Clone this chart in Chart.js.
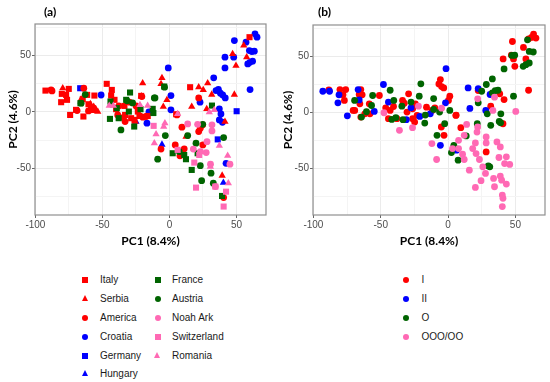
<!DOCTYPE html>
<html>
<head>
<meta charset="utf-8">
<script src="https://cdn.jsdelivr.net/npm/chart.js@4"></script>
<style>
  body { margin: 0; background: #fff; width: 550px; height: 382px; position: relative; overflow: hidden; }
  canvas { position: absolute; top: 0; }
  .tag { position: absolute; top: 4px; font: bold 12px Lato, sans-serif; color: #000; }
  .leg { position: absolute; font: 10px "Liberation Sans", Arial, sans-serif; color: #1a1a1a; }
  .row { position: absolute; white-space: nowrap; height: 12px; line-height: 12px; }
  .mk { position: absolute; top: 3px; }
  .sq { width: 6px; height: 6px; }
  .ci { width: 6px; height: 6px; border-radius: 50%; }
  .tr { width: 0; height: 0; top: 2px; border-left: 3.5px solid transparent; border-right: 3.5px solid transparent; border-bottom: 6px solid; }
</style>
</head>
<body>
<canvas id="chartA" width="275" height="255" style="left:0"></canvas>
<canvas id="chartB" width="275" height="255" style="left:275px"></canvas>
<div class="tag" style="left:44px">(a)</div>
<div class="tag" style="left:318px">(b)</div>
<div id="legendA"></div>
<div id="legendB"></div>
<script>
// panel (a): points per origin, [PC1, PC2]
const italy = [[-92.5,18.9],[-75.1,20.4],[-80.3,16],[-77.1,15.1],[-80.8,8.6],[-76.4,10.7],[-74.1,-2.7],[-69.7,1.8],
  [-64.7,11.2],[-61.4,15.1],[-60.4,6.8],[-56,14.5],[-58.5,1.8],[-64.2,-4.1],[-46.8,24.9],[-43,19.5],[-43.5,14.5],
  [-41,10.7],[-39.8,2.4],[-33.6,5.3],[-34.1,-5],[-28.6,-5.6],[-23.6,0.3],[-22.4,-3.6],[-16.2,-3.6],[-21.1,14.2],
  [-26.1,-7.1],[-33.1,-2.7],[5,-2.1],[15.4,21.9],[59.7,66.3]];
const serbia = [[-79.6,21],[-65.9,11.2],[-56.5,4.7],[-57.2,0.9],[-55.2,1.8],[-53.5,0.3],[-59,7.1],[-25.6,-8.6],
  [-20,25.5],[-21,14],[-5.6,30.2],[-6.3,24.9],[-1.9,10.7],[-4.6,4.7],[21.8,21.9],[25.2,19.5],[28.5,25.5],[16.6,4.7],
  [27.8,2.7],[31.5,15.4],[48.4,15.4],[12.4,-21.9],[39.3,-56.5],[41.4,-8.6],[55.4,58.9],[47.1,51.5],[57.6,48.6],[49.6,41.1]];
const america = [[-88.3,19.5],[-87.6,18.6],[-63.9,21],[-68.9,1.2],[-60.4,0.9],[-56.5,3.3],[-37.8,5.3],[-29.9,8.6],
  [-20.6,13.6],[-38.6,-2.7],[-33.1,-8.6],[-19.9,-4.7],[-17.4,-4.1],[-24.9,5.3],[21.8,12.4],[9.3,-13.6],[21.8,-17.5],
  [23,-14.5],[24.8,-11.5],[4.3,-29.3],[11,-32.8],[-6.3,-33],[7.8,-39],[40.4,-76],[5.6,-2.7],[24.9,-29.3]];
const croatia = [[63.8,69.3],[65.3,66.3],[57.1,61.9],[48.4,63.3],[59.6,54.4],[63.3,53.9],[61.4,53.6],[47.9,48.6],
  [41.4,48.6],[41.4,39],[58.4,42.6],[60,44],[62,45],[60.1,19.8],[-0.9,39],[33,30.2],[34.7,18.9],[36.5,20],[38,16.6],
  [39.7,15],[41.6,12.4],[22.8,8.6],[1.1,14.5],[1.1,1.8],[37.2,2.7],[38.4,-1.8],[37.2,-7.1],[39.5,-9.2],[-16.8,-10],
  [-51,15],[-15.3,0],[42.2,-45.6]];
const germany = [[-66.6,21],[50.1,0.6],[36,-24.4],[-13.8,-0.3]];
const hungary = [[-5.6,-29],[40.2,-62.8],[-25,-8.6]];
const france = [[-29.4,17.2],[-32.3,10.7],[-39.3,3.3],[-44.4,-6.2],[-37.9,-5.6],[-30.3,0.3],[-26.3,-13],[-21.6,2.4],
  [-12.5,2.7],[-12,-1],[-44,9.2],[-66.4,7.7],[-3.9,22.5],[2.4,-36.7],[11,-38.2],[12.3,-42],[16.6,-51.5],[21,-36.7],
  [31.7,5.6],[39.2,-74.6]];
const austria = [[-3.7,21.9],[-10.8,12.4],[-11.3,12.4],[-31.6,9.8],[-27.5,8],[-62.8,15.4],[-65.9,7.7],[-36.2,-16],
  [-3.1,-21],[-8.8,-42],[13.6,-21],[19.8,-27.8],[7.3,-35.2],[23,-47.7],[24,-61],[31,-54.4],[32.7,-63.3],[40.4,-22.8],
  [24.8,-11]];
const noahArk = [[13.6,-10.7],[21,-11],[31.7,-11.5],[31.7,-16.9],[28,-26.4],[17.8,-33],[23.1,-35.2],[27.4,-36.1],
  [30.6,-46.4],[45.1,-46.4],[34.3,-66.3]];
const switzerland = [[-11.8,-12.4],[6.1,-33.7],[18.5,-45],[19.8,-67.2],[34.2,-66.3],[42.2,-70.8],[40.4,-84],[22.2,-38.2]];
const romania = [[-3.4,-10],[-4.3,-13],[-11.3,-27.8],[-10,-19.8],[37.2,-30],[30.5,-48.5],[43.4,-38.8],[43.9,-63.3],
  [6.1,-1.8],[29.7,-0.3],[33.4,1.8],[-44.9,5.6],[-41.9,5.6],[-22,6.2],[-16.3,5.6]];

// panel (b): same samples grouped by class
const groupI = [[63.5,69.9],[65.3,66.3],[59.8,65.7],[62,66.9],[47.8,63.3],[56,58],[57.8,47.7],[48.6,47.7],[40.9,47.7],
  [49.6,41.1],[59.8,19.8],[47,51.2],[-5.7,29.3],[-6.8,25.4],[-4.8,23.1],[-3.2,21.9],[1.3,14.5],[0.3,10.7],[6,-2.4],
  [5.8,-2.7],[9.5,-13.6],[-5,-13],[-3,-20.4],[22.4,19.5],[31.7,5.6],[38.4,16.6],[41.6,11.5],[40.8,-10.1],[28.3,-35.2],
  [-9.8,4.1],[-11.8,1.8],[-88.5,20.1],[-80.3,20.4],[-76,20.4],[-78,15.7],[-77,10.7],[-70.5,1.8],[-69.3,1.8],[-66,16],
  [-63.8,15.7],[-64.8,20.4],[-65.5,7.7],[-61.8,-1.2],[-64.8,-4.1],[-58,-1.2],[-58.5,7.7],[-51,15.1],[-46.3,4.1],
  [-43,1.8],[-40.5,5.3],[-44.3,-5.6],[-33.8,10.7],[-32.5,8.3],[-29.3,16.6],[-30.5,0.3],[-26.3,-5.6],[-24.8,-8.6],
  [-23,-2.7],[-24.3,7.7],[-16,4.7],[-38,-5.6],[-26.3,3.3]];
const groupII = [[-93,18.9],[-88,18.9],[-81,15.7],[-81.8,8.6],[-74.8,-3],[-66.8,20.4],[-66,11.2],[-54.8,0.9],
  [-48,24.9],[-44.3,9.2],[-27.5,4.1],[-31,-6.5],[-21,-3.6],[-13.2,-1.2],[-1.5,39],[-1.9,8.6],[14.9,21.9],[16.2,3.6],
  [22.4,21.3],[31.2,16],[28,1.8],[-5.7,-29.3],[6.3,-33.7]];
const groupO = [[59,64.8],[60.3,54.4],[63.3,53.9],[47.4,50.9],[49.5,51],[41.6,38.8],[57.8,42.6],[60.3,44.1],
  [55.8,41.1],[48.6,14.5],[32.9,29.9],[28.4,24.9],[37.1,19.8],[35,19.5],[32.9,17.5],[25,18.9],[22.4,8.6],[-10.7,12.4],
  [1.3,1.8],[29.1,-1.2],[39.2,-1.2],[-10.7,2.7],[-2.5,-10],[-8.2,-20.4],[21.7,-10],[31.7,-11.5],[38,-8],[39,-9.2],
  [13.5,-21],[4.3,-29.3],[2.5,-35.8],[7.5,-42.6],[29.9,-47.7],[31,-48.5],[-56,15.1],[-43,19.8],[-69.4,10.7],
  [-20.2,25.5],[-40.3,10.7],[-21.4,14.5],[-34.3,5.6],[-60.6,0.6],[-16.9,-2.4],[-56.8,6.2],[-64.3,-4.1],[-41.8,-6.2],
  [-38.8,-4.7],[-17.3,-9.5],[-6.3,0.3],[-27.5,9.2],[-33.5,-6.5]];
const groupOOO = [[-47.6,-0.3],[-36.1,-16],[-26.4,-13.6],[-22,5.6],[-12,-27.8],[-8.5,-42],[-4.8,3.8],[13.8,-10.7],
  [7.8,-32.2],[10.8,-37.3],[12,-42],[15.8,-51.5],[20.3,-66.9],[24.5,-60.9],[18.3,-32.2],[22,-13],[21.5,-17.5],
  [20.3,-27.2],[20.8,-36.7],[23.3,-42],[25.8,-48.5],[28.3,-27.2],[27.8,-54.4],[33.8,-58.9],[34.5,-66.3],[36.3,-26.3],
  [38.8,-30.8],[37.8,-40.2],[42,-45.6],[45.8,-46.4],[43.3,-63.9],[38.8,-56.8],[39.8,-60.4],[40.3,-73.7],[40.8,-76.6],
  [40.3,-84],[50.3,0.9],[22,12.1],[33.3,1.8],[34.5,13.6],[28.3,-21.9],[7.8,-24.9],[12,-20.4],[3.3,-32.2],[43.3,-39.6]];

const xTicks = [-100, -75, -50, -25, 0, 25, 50];
const yTicks = [-75, -50, -25, 0, 25, 50, 75];
const xLabelled = [-100, -50, 0, 50];
const yLabelled = [-50, 0, 50];

const RED = '#ff0000', BLUE = '#0000ff', GREEN = '#006400', PINK = '#ff69b4';

// grey frame round the plotting area, like ggplot's theme_bw
const panelBorder = {
  id: 'panelBorder',
  afterDraw(chart) {
    const a = chart.chartArea, ctx = chart.ctx;
    ctx.save();
    ctx.strokeStyle = '#8f8f8f';
    ctx.lineWidth = 1.2;
    ctx.strokeRect(a.left, a.top, a.right - a.left, a.bottom - a.top);
    ctx.restore();
  }
};

function series(pts, color, style) {
  const r = style === 'circle' ? 3.4 : (style === 'rect' ? 4.3 : 4.2);
  return {
    data: pts.map(p => ({ x: p[0], y: p[1] })),
    pointStyle: style,
    pointRadius: r,
    backgroundColor: color,
    borderWidth: 0
  };
}

function isMajor(list, c) {
  return list.includes(c.tick && c.tick.value);
}

function makeChart(id, datasets, leftW, padTop, padRight) {
  return new Chart(document.getElementById(id), {
    type: 'scatter',
    data: { datasets: datasets },
    plugins: [panelBorder],
    options: {
      responsive: false,
      animation: false,
      layout: { padding: { top: padTop, right: padRight, left: 0, bottom: 0 } },
      plugins: { legend: { display: false }, tooltip: { enabled: false } },
      scales: {
        x: {
          min: -100.3, max: 72,
          afterBuildTicks: s => { s.ticks = xTicks.map(v => ({ value: v })); },
          afterFit: s => { s.height = 40; },
          ticks: {
            autoSkip: false, maxRotation: 0, padding: 1,
            color: '#4d4d4d', font: { family: 'Liberation Sans', size: 10 },
            callback: v => xLabelled.includes(v) ? String(v) : ''
          },
          grid: {
            color: c => isMajor(xLabelled, c) ? '#ebebeb' : '#f4f4f4',
            tickColor: c => isMajor(xLabelled, c) ? '#666' : 'rgba(0,0,0,0)',
            tickLength: 3
          },
          border: { display: false },
          title: {
            display: true, text: 'PC1 (8.4%)', color: '#000',
            font: { family: 'Lato', size: 12, weight: 'bold' },
            padding: { top: 0, bottom: 7 }
          }
        },
        y: {
          min: -91.5, max: 78,
          afterBuildTicks: s => { s.ticks = yTicks.map(v => ({ value: v })); },
          afterFit: s => { s.width = leftW; },
          ticks: {
            autoSkip: false, padding: 1,
            color: '#4d4d4d', font: { family: 'Liberation Sans', size: 10 },
            callback: v => yLabelled.includes(v) ? String(v) : ''
          },
          grid: {
            color: c => isMajor(yLabelled, c) ? '#ebebeb' : '#f4f4f4',
            tickColor: c => isMajor(yLabelled, c) ? '#666' : 'rgba(0,0,0,0)',
            tickLength: 3
          },
          border: { display: false },
          title: {
            display: true, text: 'PC2 (4.6%)', color: '#000',
            font: { family: 'Lato', size: 12, weight: 'bold' },
            padding: { top: 6, bottom: 0 }
          }
        }
      }
    }
  });
}

makeChart('chartA', [
  series(romania, PINK, 'triangle'),
  series(switzerland, PINK, 'rect'),
  series(noahArk, PINK, 'circle'),
  series(austria, GREEN, 'circle'),
  series(france, GREEN, 'rect'),
  series(italy, RED, 'rect'),
  series(america, RED, 'circle'),
  series(serbia, RED, 'triangle'),
  series(hungary, BLUE, 'triangle'),
  series(germany, BLUE, 'rect'),
  series(croatia, BLUE, 'circle')
], 35, 24, 9);

makeChart('chartB', [
  series(groupOOO, PINK, 'circle'),
  series(groupO, GREEN, 'circle'),
  series(groupII, BLUE, 'circle'),
  series(groupI, RED, 'circle')
], 38, 25, 5);

// legends below each panel (html, one row per key)
function legend(el, entries) {
  let html = '';
  entries.forEach(e => {
    const cls = e.shape === 'square' ? 'sq' : (e.shape === 'circle' ? 'ci' : 'tr');
    const colorCss = cls === 'tr' ? 'border-bottom-color:' + e.color : 'background:' + e.color;
    const mkLeft = e.mx - e.tx - (cls === 'tr' ? 3.5 : 3);
    html += '<div class="row leg" style="left:' + e.tx + 'px;top:' + (e.y - 6) + 'px">' +
      '<span class="mk ' + cls + '" style="left:' + mkLeft + 'px;' + colorCss + '"></span>' + e.label + '</div>';
  });
  document.getElementById(el).innerHTML = html;
}

const legendALabels = ['Italy', 'Serbia', 'America', 'Croatia', 'Germany', 'Hungary', 'France', 'Austria', 'Noah Ark', 'Switzerland', 'Romania'];
const legendAShapes = ['square', 'triangle', 'circle', 'circle', 'square', 'triangle', 'square', 'circle', 'circle', 'square', 'triangle'];
const legendAColors = [RED, RED, RED, BLUE, BLUE, BLUE, GREEN, GREEN, PINK, PINK, PINK];
const rowsY = [280, 299, 318, 337, 355.5, 373.5];
legend('legendA', legendALabels.map((l, i) => {
  const col = i < 6 ? 0 : 1, row = i < 6 ? i : i - 6;
  return { label: l, shape: legendAShapes[i], color: legendAColors[i],
    mx: col ? 157.5 : 85, tx: col ? 172 : 100, y: rowsY[row] };
}));

const legendBLabels = ['I', 'II', 'O', 'OOO/OO'];
const legendBColors = [RED, BLUE, GREEN, PINK];
legend('legendB', legendBLabels.map((l, i) => ({
  label: l, shape: 'circle', color: legendBColors[i], mx: 406, tx: 421.5, y: rowsY[i]
})));
</script>
</body>
</html>
